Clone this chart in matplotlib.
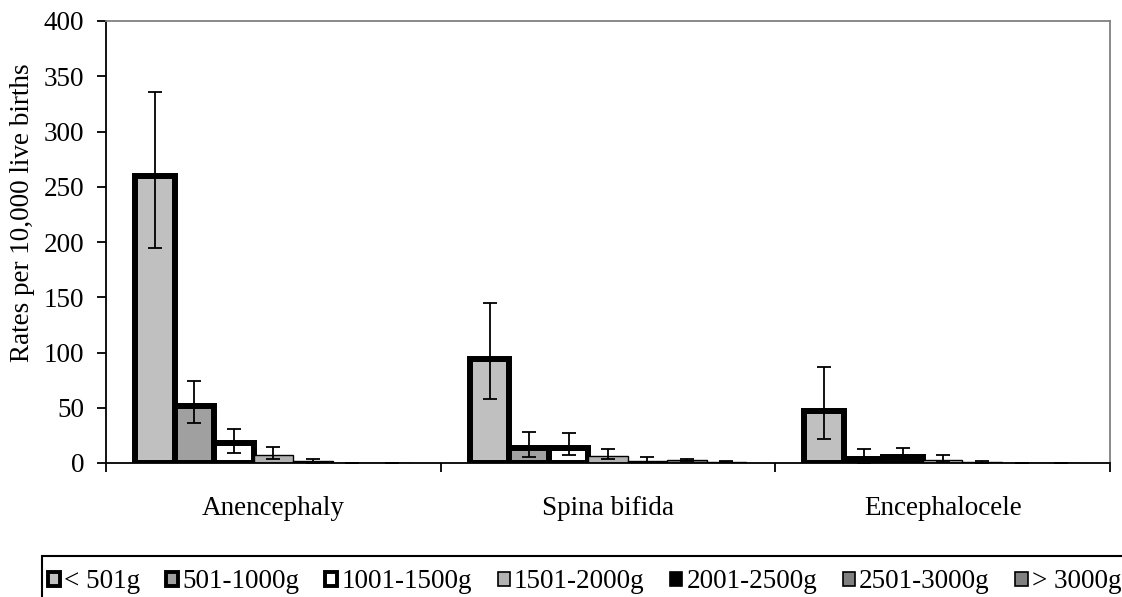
import numpy as np
import matplotlib
matplotlib.use("Agg")
from matplotlib import pyplot as plt
from matplotlib.patches import Patch, Rectangle

plt.rcParams['font.family'] = ['Liberation Serif', 'DejaVu Serif']
plt.rcParams['font.size'] = 19.5

DEFECTS = ["Anencephaly", "Spina bifida", "Encephalocele"]
WEIGHTS = ["< 501g", "501-1000g", "1001-1500g", "1501-2000g",
           "2001-2500g", "2501-3000g", "> 3000g"]

# rates per weight class, one list per defect
ANEN = [260, 52, 18, 7, 1.5, 0.3, 0.1]
SPINA = [94, 14, 14, 6.5, 2, 3, 1]
ENCEPH = [47, 4, 5, 3, 1, 0, 0]

# confidence limits
ANEN_LO = [195, 36, 9, 3.5, 0.3, 0.3, 0.1]
ANEN_HI = [336, 74, 31, 14.5, 3.8, 0.3, 0.1]
SPINA_LO = [58, 5.5, 7, 3.6, 0.5, 2, 0.5]
SPINA_HI = [145, 28.5, 27, 12.4, 5.2, 4, 1.5]
ENCEPH_LO = [22, 0.3, 0.5, 0.5, 0.3, 0, 0]
ENCEPH_HI = [87, 12.4, 14, 7, 1.5, 0, 0]

FACE = ["#C0C0C0", "#A0A0A0", "#FFFFFF", "#B2B2B2", "#000000", "#808080", "#808080"]
THICK = [True, True, True, False, False, False, False]

vals = np.array([ANEN, SPINA, ENCEPH])
lo = np.array([ANEN_LO, SPINA_LO, ENCEPH_LO])
hi = np.array([ANEN_HI, SPINA_HI, ENCEPH_HI])

fig = plt.figure(figsize=(11.22, 5.97), dpi=100)
ax = fig.add_axes([106 / 1122, (597 - 463) / 597, 1004 / 1122, 442 / 597])

x = np.arange(len(DEFECTS))
w = 0.118
for j in range(len(WEIGHTS)):
    pos = x + (j - 3) * w
    ax.bar(pos, vals[:, j], width=w, color=FACE[j], edgecolor="black",
           linewidth=4.3 if THICK[j] else 1.0, zorder=2)
    ax.errorbar(pos, vals[:, j], yerr=[vals[:, j] - lo[:, j], hi[:, j] - vals[:, j]],
                fmt="none", ecolor="black", elinewidth=1.3, capsize=5, capthick=1.3, zorder=3)

ax.set_xlim(-0.5, 2.5)
ax.set_ylim(0, 400)
ax.set_yticks(np.arange(0, 401, 50))
ax.set_xticks(x)
ax.set_xticklabels(DEFECTS)
ax.set_xticks(np.arange(-0.5, 2.6, 1), minor=True)
ax.tick_params(axis="x", which="major", length=0, pad=24)
ax.tick_params(axis="x", which="minor", direction="out", length=6.5, width=1.3)
ax.tick_params(axis="y", direction="out", length=6.5, width=1.3, pad=9)

for s in ["left", "bottom"]:
    ax.spines[s].set_linewidth(1.3)
    ax.spines[s].set_color("black")
for s in ["top", "right"]:
    ax.spines[s].set_linewidth(1.3)
    ax.spines[s].set_color("#808080")

ax.set_ylabel("Rates per 10,000 live births")
ax.yaxis.set_label_coords(-0.071, 0.566)

handles = [Patch(facecolor=FACE[j], edgecolor="black", linewidth=2.8 if THICK[j] else 1.2)
           for j in range(len(WEIGHTS))]
fig.legend(handles, WEIGHTS, loc="center left", bbox_to_anchor=(48 / 1122, 15 / 597),
           ncol=7, frameon=False, handlelength=0.45, handleheight=0.45,
           handletextpad=0.15, columnspacing=0.95, borderaxespad=0, borderpad=0)
fig.add_artist(Rectangle((42 / 1122, -0.5), 2, 0.5 + 41 / 597, transform=fig.transFigure,
                         fill=False, edgecolor="black", linewidth=1.5))

fig.savefig("out.png", dpi=100)
